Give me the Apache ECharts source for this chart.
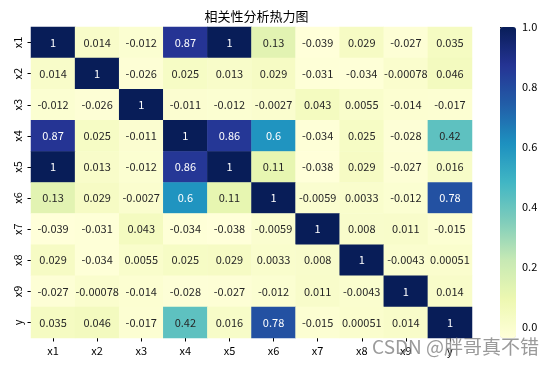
<!DOCTYPE html>
<html>
<head>
<meta charset="utf-8">
<script src="https://cdn.jsdelivr.net/npm/echarts@6/dist/echarts.min.js"></script>
<style>html,body{margin:0;padding:0;background:#fff;}#c{width:554px;height:368px;}</style>
</head>
<body>
<div id="c"></div>
<script>
var labels = ['x1','x2','x3','x4','x5','x6','x7','x8','x9','y'];
var row_x1 = [1, 0.014, -0.012, 0.87, 1, 0.13, -0.039, 0.029, -0.027, 0.035];
var row_x2 = [0.014, 1, -0.026, 0.025, 0.013, 0.029, -0.031, -0.034, -0.00078, 0.046];
var row_x3 = [-0.012, -0.026, 1, -0.011, -0.012, -0.0027, 0.043, 0.0055, -0.014, -0.017];
var row_x4 = [0.87, 0.025, -0.011, 1, 0.86, 0.6, -0.034, 0.025, -0.028, 0.42];
var row_x5 = [1, 0.013, -0.012, 0.86, 1, 0.11, -0.038, 0.029, -0.027, 0.016];
var row_x6 = [0.13, 0.029, -0.0027, 0.6, 0.11, 1, -0.0059, 0.0033, -0.012, 0.78];
var row_x7 = [-0.039, -0.031, 0.043, -0.034, -0.038, -0.0059, 1, 0.008, 0.011, -0.015];
var row_x8 = [0.029, -0.034, 0.0055, 0.025, 0.029, 0.0033, 0.008, 1, -0.0043, 0.00051];
var row_x9 = [-0.027, -0.00078, -0.014, -0.028, -0.027, -0.012, 0.011, -0.0043, 1, 0.014];
var row_y  = [0.035, 0.046, -0.017, 0.42, 0.016, 0.78, -0.015, 0.00051, 0.014, 1];
var colorbarTicks = [0, 0.2, 0.4, 0.6, 0.8, 1.0];
var titleText = '相关性分析热力图';
var watermark = 'CSDN @胖哥真不错';

var rows = [row_x1,row_x2,row_x3,row_x4,row_x5,row_x6,row_x7,row_x8,row_x9,row_y];
var cmap = ['#ffffd9','#edf8b1','#c7e9b4','#7fcdbb','#41b6c4','#1d91c0','#225ea8','#253494','#081d58'];
var all = [].concat.apply([], rows);
var vmin = Math.min.apply(null, all), vmax = Math.max.apply(null, all);

function hex(c){return [parseInt(c.substr(1,2),16),parseInt(c.substr(3,2),16),parseInt(c.substr(5,2),16)];}
function colorAt(v){
  var t = (v - vmin) / (vmax - vmin); t = Math.max(0, Math.min(1, t));
  var p = t * (cmap.length - 1), i = Math.min(Math.floor(p), cmap.length - 2), f = p - i;
  var a = hex(cmap[i]), b = hex(cmap[i+1]);
  return [0,1,2].map(function(k){return a[k] + (b[k]-a[k])*f;});
}
function lum(rgb){
  var c = rgb.map(function(x){x/=255; return x <= 0.03928 ? x/12.92 : Math.pow((x+0.055)/1.055, 2.4);});
  return 0.2126*c[0] + 0.7152*c[1] + 0.0722*c[2];
}
var data = [];
rows.forEach(function(r, yi){
  r.forEach(function(v, xi){
    data.push({value:[xi, yi, v], label:{color: lum(colorAt(v)) < 0.408 ? '#ffffff' : '#262626'}});
  });
});

var FONT = '"Noto Sans CJK SC", "Noto Sans", sans-serif';
var chart = echarts.init(document.getElementById('c'), null, {renderer:'canvas'});
chart.setOption({
  animation: false,
  backgroundColor: '#ffffff',
  textStyle: {fontFamily: FONT},
  title: {
    text: titleText, left: 251.5, top: 5, textAlign: 'center',
    textStyle: {fontFamily: FONT, fontSize: 13, fontWeight: 'normal', color: '#000'}
  },
  grid: [
    {left: 31, top: 27, width: 441, height: 311},
    {left: 500, top: 27, width: 16, height: 311}
  ],
  xAxis: [
    {type: 'category', data: labels, gridIndex: 0, position: 'bottom',
     axisLine: {show: false}, splitLine: {show: false},
     axisTick: {show: true, alignWithLabel: true, length: 3.5, lineStyle: {color: '#000'}},
     axisLabel: {fontFamily: FONT, fontSize: 11, color: '#000', margin: 7}},
    {type: 'value', gridIndex: 1, show: false, min: 0, max: 1}
  ],
  yAxis: [
    {type: 'category', data: labels, gridIndex: 0, inverse: true,
     axisLine: {show: false}, splitLine: {show: false},
     axisTick: {show: true, alignWithLabel: true, length: 3.5, lineStyle: {color: '#000'}},
     axisLabel: {fontFamily: FONT, fontSize: 11, color: '#000', rotate: 90, margin: 8}},
    {type: 'value', gridIndex: 1, position: 'right', min: vmin, max: vmax,
     axisLine: {show: false}, splitLine: {show: false},
     axisTick: {show: true, length: 3.5, customValues: colorbarTicks, lineStyle: {color: '#000'}},
     axisLabel: {fontFamily: FONT, fontSize: 11, color: '#000', margin: 6, customValues: colorbarTicks,
       formatter: function(v){return Number(v).toFixed(1);}}}
  ],
  visualMap: {
    type: 'continuous', min: vmin, max: vmax, seriesIndex: 0,
    left: 500, top: 27, padding: 0, itemWidth: 16, itemHeight: 311,
    calculable: false, hoverLink: false, text: null, orient: 'vertical',
    inRange: {color: cmap}
  },
  series: [{
    type: 'heatmap', xAxisIndex: 0, yAxisIndex: 0, data: data,
    label: {show: true, fontFamily: FONT, fontSize: 11,
      formatter: function(p){return String(p.value[2]);}},
    emphasis: {disabled: true}
  }],
  graphic: [{
    type: 'text', right: 15, top: 337, silent: true, z: 100,
    style: {text: watermark, fontFamily: FONT, fontSize: 19, fill: 'rgba(120,120,120,0.75)'}
  }]
});
</script>
</body>
</html>
